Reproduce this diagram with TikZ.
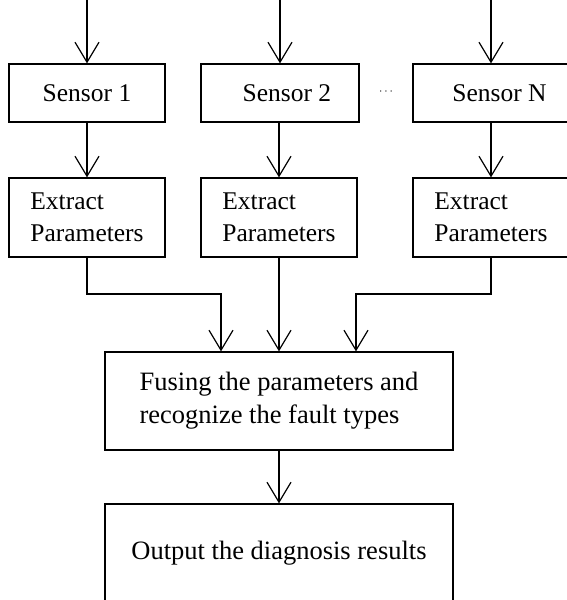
\documentclass[tikz,border=0pt]{standalone}
\usepackage{fontspec}
\setmainfont{Liberation Serif}
\usetikzlibrary{arrows.meta,positioning}
\tikzset{sensor box/.style={rectangle,draw,line width=1.2pt,minimum width=156pt,minimum height=58pt,inner sep=0pt,
                            font=\fontsize{25.5}{32}\selectfont},
         extract box/.style={rectangle,draw,line width=1.2pt,minimum width=156pt,minimum height=79pt,inner sep=0pt,
                            align=left,font=\fontsize{25.5}{32}\selectfont},
         fuse box/.style={rectangle,draw,line width=1.2pt,minimum width=348pt,minimum height=98pt,inner sep=0pt,
                            align=left,font=\fontsize{26.5}{33}\selectfont},
         flow/.style={->,line width=1.2pt},
}

\begin{document}
\begin{tikzpicture}[x=1pt,y=-1pt,
>={Straight Barb[length=20pt,width=24pt]}]
\useasboundingbox (0,0) rectangle (566,600);
% \draw[help lines,step=50] (0,0) grid (566,600);

% sensors
\node[sensor box] (s1) at (87,93) {Sensor 1};
\node[sensor box,minimum width=158pt] (s2) at (280,93) {\hspace*{14pt}Sensor 2};
\node[sensor box] (sN) at (491,93) {\hspace*{17pt}Sensor N};
\node[inner sep=0pt,font=\fontsize{12}{12}\selectfont] (dots) at (386,92) {$\cdots$};

\coordinate (in1) at (87,0);
\coordinate (in2) at (280,0);
\coordinate (inN) at (491,0);

% feature extraction
\node[extract box] (e1) at (87,217.5) {Extract\\Parameters};
\node[extract box] (e2) at (279,217.5) {Extract\\Parameters};
\node[extract box] (eN) at (491,217.5) {Extract\\Parameters};

% fusion and output
\node[fuse box] (fuse) at (279,401) {Fusing the parameters and\\recognize the fault types};
\node[fuse box] (out) at (279,553) {Output the diagnosis results};

\coordinate (j1) at (221,294);
\coordinate (jN) at (356,294);

\draw[flow] (in1) -- (s1);
\draw[flow] (in2) -- (s2);
\draw[flow] (inN) -- (sN);

\draw[flow] (s1) -- (e1);
\draw[flow] (s2.south -| e2) -- (e2);
\draw[flow] (sN) -- (eN);

\draw[flow] (e1) |- (j1) -- (j1 |- fuse.north);
\draw[flow] (e2) -- (e2 |- fuse.north);
\draw[flow] (eN) |- (jN) -- (jN |- fuse.north);

\draw[flow] (fuse) -- (out);

\end{tikzpicture}
\end{document}
